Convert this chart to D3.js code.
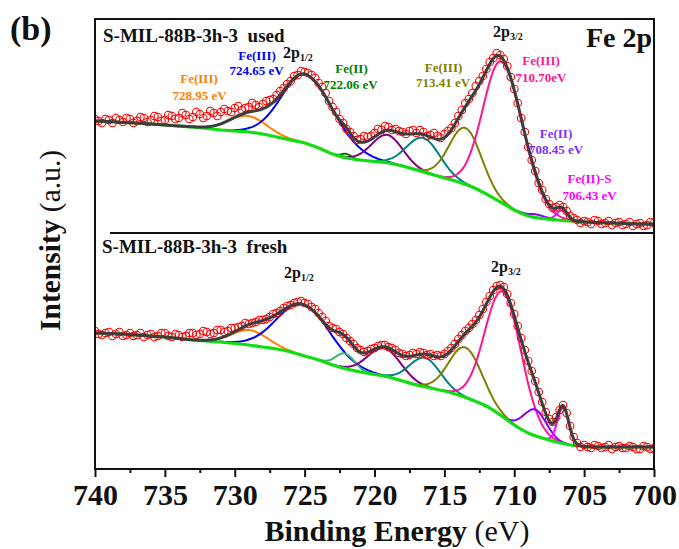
<!DOCTYPE html>
<html><head><meta charset="utf-8">
<script src="https://cdn.jsdelivr.net/npm/d3@7"></script>
<style>
body{margin:0;background:#fff}
svg{display:block}
text{font-family:"Liberation Serif","Times New Roman",Times,serif}
</style>
</head><body>
<svg id="chart" width="679" height="549"></svg>
<script>
// ---------- DATA ----------
const xTicks = [740, 735, 730, 725, 720, 715, 710, 705, 700];
const minorTicks = [737.5, 732.5, 727.5, 722.5, 717.5, 712.5, 707.5, 702.5];

// Shirley-type background (1 eV steps, 740 -> 700 eV), intensity a.u.
const usedBackground = [348,347.5,346.5,346,345,344,343,342,340.5,339,338,337,335,332,329,326,321,315,311,309,307.5,306,303,299,295,291,287,282,275,267,259,253,250.5,249,248,247,246.5,246,245.5,245,245];
const freshBackground = [136,135.5,135,134,133,132,130.5,129,128,127,125.5,124,122,120,117,113,109,104,100,97,94.5,92,88,84,81,78,74,69,63,54,44,36,31,27,24,22.5,22,22,22,22,22];

// Measured spectra (0.25 eV steps, 740 -> 700 eV)
const usedMeasured = [
  350,348,346,350,349,346,351,349,
  347,351,350,346,348,352,351,347,
  349,353,352,348,349,354,353,350,
  351,356,354,350,352,357,355,351,
  353,358,356,353,357,360,358,357,
  361,363,359,361,362,366,364,362,
  365,368,369,370,374,378,381,385,
  388,393,394,398,397,396,394,391,
  386,382,376,368,362,357,350,346,
  340,337,333,329,330,333,332,333,
  336,340,339,343,342,339,340,338,
  337,335,338,339,336,339,337,333,
  334,336,333,331,335,338,341,346,
  353,359,366,370,376,383,388,393,
  400,407,411,416,414,410,403,392,
  380,366,351,337,322,309,298,286,
  279,270,265,261,262,264,262,258,
  253,251,249,246,248,247,245,249,
  248,245,246,248,244,246,247,244,
  245,247,243,245,246,243,244,247,
  246];
const freshMeasured = [
  138,135,134,136,137,133,135,137,
  133,134,136,133,134,136,132,134,
  135,132,133,136,136,133,132,135,
  134,132,133,136,136,134,135,138,
  137,135,136,139,139,137,138,141,
  141,142,143,146,145,146,147,149,
  149,150,152,155,156,158,161,163,
  164,166,167,168,166,165,162,160,
  156,152,148,143,141,140,137,135,
  131,128,125,121,119,117,118,120,
  121,123,124,124,122,121,119,116,
  115,113,114,116,115,117,116,114,
  115,113,114,113,115,118,121,125,
  130,134,138,141,145,149,154,160,
  167,173,179,183,184,182,175,166,
  155,143,131,119,108,98,88,77,
  67,57,50,47,52,59,64,56,
  43,32,26,22,24,22,21,24,
  23,21,22,24,20,22,23,21,
  21,23,22,20,20,23,22,20,
  21];

// Fitted components: Fe(III) 728.95, Fe(III) 724.65, Fe(II) 722.06, sat., sat., Fe(III) 713.41, Fe(III) 710.70, Fe(II) 708.45, Fe(II)-S 706.43
const usedCenter   = [729.1, 724.95, 722.0, 719.1, 716.5, 713.5, 710.9, 708.4, 706.6];
const usedHeight   = [16, 69, 4, 28, 34, 56.5, 141, 3, 10];
const usedFwhmLow  = [3.2, 4.9, 0.8, 2.6, 2.8, 2.7, 3.65, 1.5, 0.9];
const usedFwhmHigh = [3.2, 4.0, 0.8, 2.6, 2.8, 2.7, 3.1, 1.5, 0.9];

const freshCenter   = [728.9, 725.1, 722.1, 719.3, 716.4, 713.5, 710.8, 708.5, 706.5];
const freshHeight   = [15, 51, 15, 28, 29, 50, 125, 26, 36];
const freshFwhmLow  = [3.0, 4.6, 1.6, 2.8, 2.6, 2.75, 3.1, 1.9, 0.95];
const freshFwhmHigh = [3.0, 4.35, 1.6, 2.8, 2.6, 2.75, 3.0, 1.9, 0.95];

// ---------- STYLE ----------
const usedColors  = ['#ff8000','#0000ff','#008000','#800080','#008080','#808000','#ff1493','#8000ff','#ff00ff'];
const freshColors = ['#ff8000','#0000ff','#3cb371','#800080','#008080','#808000','#ff1493','#8000ff','#ff00ff'];

const svg = d3.select('#chart');
const plot = {l:95, r:654, t:19, b:469};
const x = d3.scaleLinear().domain([740, 700]).range([plot.l, plot.r]);
const y = d3.scaleLinear().domain([0, 450]).range([plot.b, plot.t]);

const measuredE = d3.range(161).map(i => 740 - i * 0.25);
const backgroundE = d3.range(41).map(i => 740 - i);
const fineE = d3.range(801).map(i => 740 - i * 0.05);

svg.append('defs').append('clipPath').attr('id','clip')
  .append('rect').attr('x',plot.l).attr('y',plot.t).attr('width',plot.r-plot.l).attr('height',plot.b-plot.t);

function peak(E, c, h, wl, wh) {
  const w = E < c ? wl : wh;
  return h * Math.exp(-4 * Math.LN2 * (E - c) * (E - c) / (w * w));
}
const line = d3.line().x(d => x(d[0])).y(d => y(d[1]));
const smooth = d3.line().x(d => x(d[0])).y(d => y(d[1])).curve(d3.curveMonotoneX);

function panel(bgVals, meas, cen, hei, wl, wh, colors) {
  const bgAt = d3.scaleLinear().domain(backgroundE).range(bgVals);
  const g = svg.append('g').attr('clip-path','url(#clip)');
  cen.forEach((c, i) => {
    const pts = fineE.map(E => [E, peak(E, c, hei[i], wl[i], wh[i])])
      .filter(p => p[1] > 0.25)
      .map(p => [p[0], bgAt(p[0]) + p[1]]);
    g.append('path').attr('d', line(pts)).attr('fill','none')
      .attr('stroke', colors[i]).attr('stroke-width', 2);
  });
  g.append('path').attr('d', smooth(backgroundE.map((E, i) => [E, bgVals[i]])))
    .attr('fill','none').attr('stroke','#11dd11').attr('stroke-width',3.2);
  g.selectAll(null).data(meas).enter().append('circle')
    .attr('cx', (d, i) => x(measuredE[i])).attr('cy', d => y(d)).attr('r', 3.8)
    .attr('fill','none').attr('stroke','#ff0000').attr('stroke-width',1.1);
  const env = fineE.map(E => [E, bgAt(E) + d3.sum(cen, (c, i) => peak(E, c, hei[i], wl[i], wh[i]))]);
  g.append('path').attr('d', line(env)).attr('fill','none')
    .attr('stroke','#3d3d3d').attr('stroke-width',3);
}

panel(usedBackground, usedMeasured, usedCenter, usedHeight, usedFwhmLow, usedFwhmHigh, usedColors);
panel(freshBackground, freshMeasured, freshCenter, freshHeight, freshFwhmLow, freshFwhmHigh, freshColors);

// frame
svg.append('rect').attr('x',plot.l).attr('y',plot.t).attr('width',plot.r-plot.l).attr('height',plot.b-plot.t)
  .attr('fill','none').attr('stroke','#111').attr('stroke-width',2);
// separator
svg.append('line').attr('x1',110).attr('x2',plot.r).attr('y1',233).attr('y2',233)
  .attr('stroke','#111').attr('stroke-width',2);

// axes
const serif = '"Liberation Serif","Times New Roman",Times,serif';
const ax = svg.append('g').attr('transform',`translate(0,${plot.b})`)
  .call(d3.axisBottom(x).tickValues(xTicks).tickSize(8).tickSizeOuter(0).tickFormat(d3.format('d')));
ax.select('.domain').remove();
ax.attr('font-family', serif).attr('font-size', 30);
ax.selectAll('.tick line').attr('stroke','#111').attr('stroke-width',2);
ax.selectAll('.tick text').attr('y',36).attr('dy',0).attr('font-weight','bold').attr('fill','#111');
const axm = svg.append('g').attr('transform',`translate(0,${plot.b})`)
  .call(d3.axisBottom(x).tickValues(minorTicks).tickSize(4).tickSizeOuter(0).tickFormat(''));
axm.select('.domain').remove();
axm.selectAll('.tick line').attr('stroke','#111').attr('stroke-width',2);

// texts
function txt(s, xx, yy, size, color, anchor, weight) {
  return svg.append('text').attr('x',xx).attr('y',yy).attr('font-size',size)
    .attr('fill',color||'#111').attr('text-anchor',anchor||'middle')
    .attr('font-weight',weight||'bold').attr('xml:space','preserve')
    .style('white-space','pre').text(s);
}
function orbital(xx, yy, sub) {
  const t = svg.append('text').attr('x',xx).attr('y',yy).attr('fill','#111').attr('font-weight','bold');
  t.append('tspan').attr('font-size',16).text('2p');
  t.append('tspan').attr('font-size',10).attr('dy',3).text(sub);
}

txt('(b)', 10, 40, 34, '#111', 'start');
txt('S-MIL-88B-3h-3  used', 103, 42, 19, '#111', 'start');
txt('S-MIL-88B-3h-3  fresh', 102, 253, 19, '#111', 'start');
txt('Fe 2p', 652, 47, 28, '#111', 'end');

txt('Fe(III)', 199, 83, 13, '#ff8000');
txt('728.95 eV', 199.5, 100, 13, '#ff8000');
txt('Fe(III)', 257, 60, 13, '#0000ff');
txt('724.65 eV', 256.5, 75, 13, '#0000ff');
txt('Fe(II)', 351.5, 73, 13, '#008000');
txt('722.06 eV', 350.5, 89, 13, '#008000');
txt('Fe(III)', 443.5, 72, 13, '#808000');
txt('713.41 eV', 443, 87, 13, '#808000');
txt('Fe(III)', 541, 65, 13, '#ff1493');
txt('710.70eV', 541, 82, 13, '#ff1493');
txt('Fe(II)', 556, 138, 13, '#7f2fff');
txt('708.45 eV', 556, 154, 13, '#7f2fff');
txt('Fe(II)-S', 589.5, 183, 13, '#ff00ff');
txt('706.43 eV', 589.5, 200, 13, '#ff00ff');

orbital(283, 58, '1/2');
orbital(493, 37, '3/2');
orbital(284, 278, '1/2');
orbital(491, 272, '3/2');

// axis titles
const xt = svg.append('text').attr('x',397).attr('y',541).attr('text-anchor','middle')
  .attr('font-size',30).attr('fill','#111');
xt.append('tspan').attr('font-weight','bold').text('Binding Energy');
xt.append('tspan').attr('font-weight','normal').text(' (eV)');

const yt = svg.append('text').attr('transform','translate(60,331) rotate(-90)')
  .attr('text-anchor','start').attr('font-size',29.5).attr('fill','#111')
  .attr('xml:space','preserve').style('white-space','pre');
yt.append('tspan').attr('font-weight','bold').text('Intensity');
yt.append('tspan').attr('font-weight','normal').text(' (a.u.)');
</script>
</body></html>
